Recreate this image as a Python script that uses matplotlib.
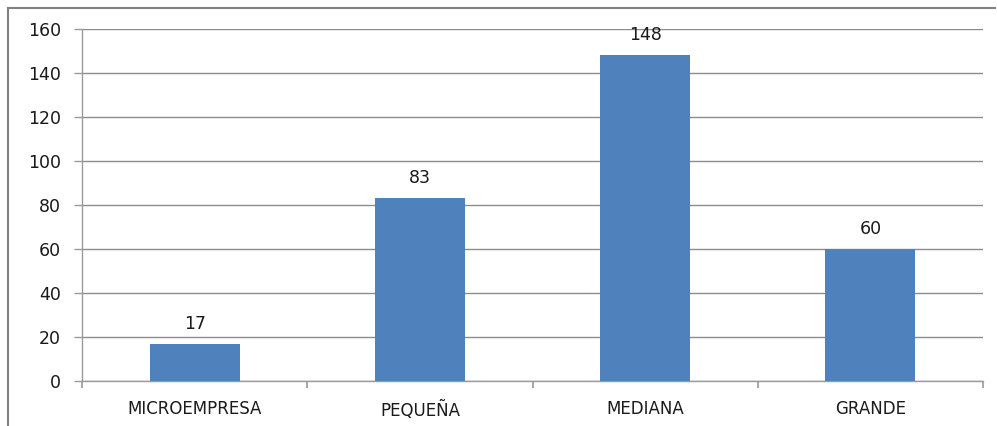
import matplotlib
matplotlib.use("Agg")
import matplotlib.pyplot as plt
from matplotlib.lines import Line2D
import numpy as np

categories = ["MICROEMPRESA", "PEQUEÑA", "MEDIANA", "GRANDE"]
values = [17, 83, 148, 60]
yticks = [0, 20, 40, 60, 80, 100, 120, 140, 160]

plt.rcParams['font.family'] = ['DejaVu Sans']

fig = plt.figure(figsize=(9.97, 4.26), dpi=100)
ax = fig.add_axes([82/997, 1-381/426, (983-82)/997, (381-29)/426])

x = np.arange(len(categories))
bars = ax.bar(x, values, width=0.4, color="#4F81BD", zorder=3)
for xi, v in zip(x, values):
    ax.text(xi, v + 5, str(v), ha="center", va="bottom", fontsize=12.5, color="#1a1a1a")

ax.set_xlim(-0.5, len(categories) - 0.5)
ax.set_ylim(0, 160)
ax.set_yticks(yticks)
ax.set_yticklabels([str(t) for t in yticks], fontsize=12.5, color="#1a1a1a")
ax.set_xticks(x)
ax.set_xticklabels(categories, fontsize=12, color="#1a1a1a")
ax.set_xticks(np.arange(-0.5, len(categories)), minor=True)
ax.tick_params(axis="x", which="major", length=0, pad=14)
ax.tick_params(axis="x", which="minor", length=5, color="#9a9a9a", width=1.2)
ax.tick_params(axis="y", length=6, color="#9a9a9a", width=1, pad=9)
ax.yaxis.grid(True, color="#8c8c8c", linewidth=1, zorder=0)
for s in ["top", "right"]:
    ax.spines[s].set_visible(False)
for s in ["left", "bottom"]:
    ax.spines[s].set_color("#9a9a9a")
    ax.spines[s].set_linewidth(1)

# figure frame (top and left edges)
fig.add_artist(Line2D([8/997, 995/997], [1-8/426, 1-8/426], color="#808080", linewidth=1.5, transform=fig.transFigure))
fig.add_artist(Line2D([8/997, 8/997], [1-8/426, 0], color="#808080", linewidth=1.5, transform=fig.transFigure))

fig.savefig("out.png", dpi=100)
